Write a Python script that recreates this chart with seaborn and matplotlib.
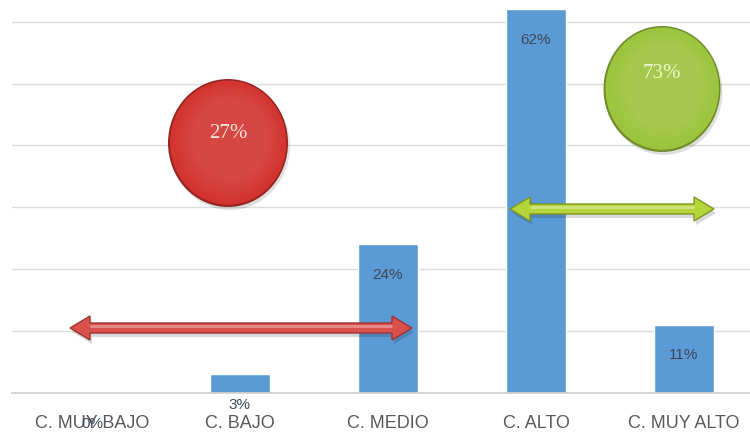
import numpy as np
import pandas as pd
import seaborn as sns
import matplotlib.pyplot as plt
from matplotlib.patches import Ellipse, Polygon
from matplotlib.colors import to_rgb

# datos
categorias = ['C. MUY BAJO', 'C. BAJO', 'C. MEDIO', 'C. ALTO', 'C. MUY ALTO']
porcentajes = [0, 3, 24, 62, 11]
etiquetas = ['0%', '3%', '24%', '62%', '11%']
resumen_bajo = '27%'
resumen_alto = '73%'

sns.set_theme(style='white')
plt.rcParams['font.family'] = ['Liberation Sans', 'DejaVu Sans']

df = pd.DataFrame({'cat': categorias, 'pct': porcentajes})

fig = plt.figure(figsize=(7.5, 4.38), dpi=100)
ax = fig.add_axes([12 / 750, 45 / 438, 738 / 750, 393 / 438])

sns.barplot(data=df, x='cat', y='pct', color='#5B9BD5', saturation=1,
            width=0.40, ax=ax)
ax.set_xlim(-0.54, 4.446)
ax.set_ylim(0, 63.5)
ax.set_yticks(np.arange(0, 70, 10))
ax.yaxis.grid(True, color='#dcdcdc', lw=1)
ax.set_axisbelow(True)
ax.tick_params(axis='y', left=False, labelleft=False)
ax.tick_params(axis='x', bottom=False, pad=10, labelsize=13, labelcolor='#595959')
ax.set_xlabel('')
ax.set_ylabel('')
for s in ['top', 'right', 'left']:
    ax.spines[s].set_visible(False)
ax.spines['bottom'].set_color('#d0d0d0')

# etiquetas de datos (extremo interno)
for i, (v, t) in enumerate(zip(porcentajes, etiquetas)):
    ax.annotate(t, xy=(i, v), xytext=(0, -22), textcoords='offset points',
                ha='center', va='center', fontsize=11, color='#3f4857',
                annotation_clip=False, zorder=4)

# conversion pixeles -> fraccion de ejes
AW, AH = 738.0, 393.0


def burbuja(cx, cy, w, h, base, texto, txtcol, dy):
    r, g, b = to_rgb(base)
    oscuro = tuple(c * 0.72 for c in (r, g, b))
    # sombra
    ax.add_patch(Ellipse((cx + 2 / AW, cy - 3 / AH), w, h, transform=ax.transAxes,
                         fc='#000000', alpha=0.12, ec='none', zorder=5))
    ax.add_patch(Ellipse((cx, cy), w, h, transform=ax.transAxes, fc=oscuro,
                         ec='none', zorder=5.1))
    n = 12
    for k in range(n):
        f = 0.97 - k / n * 0.35
        mix = k / n * 0.10
        col = (r + (1 - r) * mix, g + (1 - g) * mix, b + (1 - b) * mix)
        ax.add_patch(Ellipse((cx + (1 - f) * 0.01, cy + (1 - f) * 0.03), w * f, h * f,
                             transform=ax.transAxes, fc=col, ec='none',
                             zorder=5.2 + k * 0.01))
    ax.text(cx, cy + dy / AH, texto, transform=ax.transAxes, ha='center',
            va='center', fontsize=15, color=txtcol,
            family=['Liberation Serif', 'DejaVu Serif'], zorder=7)


burbuja((228 - 12) / AW, (393 - 143) / AH, 120 / AW, 128 / AH,
        '#D2332F', resumen_bajo, '#f7e2d6', 9)
burbuja((662 - 12) / AW, (393 - 89) / AH, 117 / AW, 126 / AH,
        '#9CC43C', resumen_alto, '#eef7cf', 15)


def flecha_doble(px0, px1, py, fc, ec):
    x0, x1 = (px0 - 12) / AW, (px1 - 12) / AW
    y = (393 - py) / AH
    t = 5 / AH      # medio grosor del cuerpo
    hh = 12 / AH    # medio alto de la punta
    hl = 20 / AW    # largo de la punta
    pts = [(x0, y), (x0 + hl, y + hh), (x0 + hl, y + t), (x1 - hl, y + t),
           (x1 - hl, y + hh), (x1, y), (x1 - hl, y - hh), (x1 - hl, y - t),
           (x0 + hl, y - t), (x0 + hl, y - hh)]
    sombra = [(px + 2 / AW, py - 4 / AH) for px, py in pts]
    ax.add_patch(Polygon(sombra, closed=True, transform=ax.transAxes,
                         fc='#000000', alpha=0.15, ec='none', zorder=8))
    ax.add_patch(Polygon(pts, closed=True, transform=ax.transAxes,
                         fc=fc, ec=ec, lw=1, zorder=8.1))
    # brillo superior del cuerpo
    ax.plot([x0 + hl, x1 - hl], [y + t * 0.35, y + t * 0.35], transform=ax.transAxes,
            color='white', alpha=0.35, lw=2, zorder=8.2, solid_capstyle='butt')


flecha_doble(70, 412, 328, '#D9504C', '#9e3431')
flecha_doble(510, 714, 209, '#B5D53A', '#7d9722')

fig.savefig('out.png', dpi=100)
